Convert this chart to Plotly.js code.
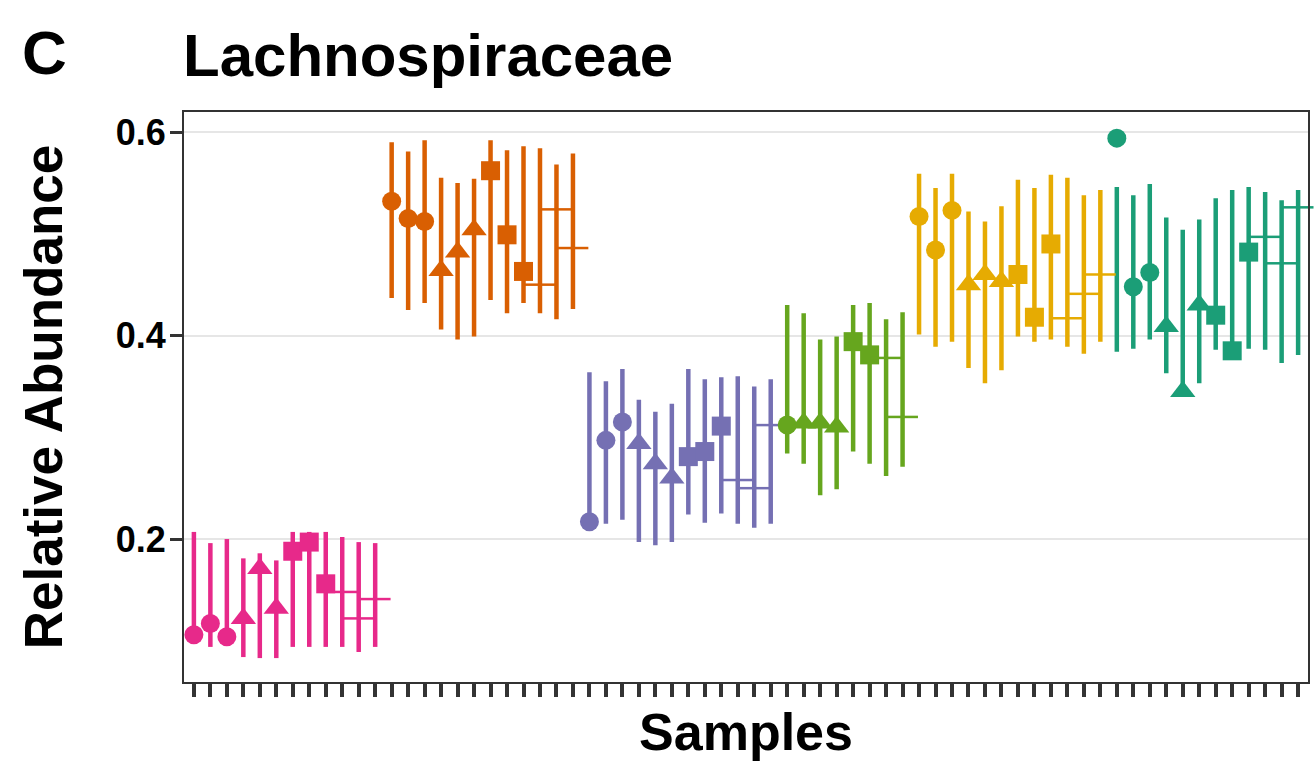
<!DOCTYPE html>
<html>
<head>
<meta charset="utf-8">
<script src="https://cdn.plot.ly/plotly-3.0.1.min.js"></script>
<style>html,body{margin:0;padding:0;background:#fff;}#chart{width:1315px;height:761px;}</style>
</head>
<body>
<div id="chart"></div>
<script>
// ---- data ----
const groupColors = ['#E7298A', '#D95F02', '#7570B3', '#66A61E', '#E6AB02', '#1B9E77'];

const pinkShape = ['circle','circle','circle','triangle','triangle','triangle','square','square','square','plus','plus','plus'];
const pinkMid  = [0.106,0.117,0.104,0.122,0.171,0.132,0.188,0.197,0.156,0.148,0.122,0.141];
const pinkLow  = [0.097,0.094,0.100,0.084,0.083,0.083,0.094,0.094,0.094,0.094,0.089,0.094];
const pinkHigh = [0.207,0.196,0.200,0.181,0.186,0.179,0.207,0.207,0.207,0.202,0.197,0.196];

const orangeShape = ['circle','circle','circle','triangle','triangle','triangle','square','square','square','plus','plus','plus'];
const orangeMid  = [0.532,0.515,0.512,0.464,0.482,0.504,0.562,0.499,0.463,0.450,0.524,0.486];
const orangeLow  = [0.437,0.425,0.432,0.406,0.396,0.399,0.435,0.422,0.432,0.422,0.416,0.426];
const orangeHigh = [0.590,0.581,0.592,0.555,0.550,0.554,0.592,0.582,0.586,0.584,0.568,0.579];

const purpleShape = ['circle','circle','circle','triangle','triangle','triangle','square','square','square','plus','plus','plus'];
const purpleMid  = [0.217,0.297,0.315,0.294,0.274,0.260,0.281,0.286,0.311,0.258,0.250,0.312];
const purpleLow  = [0.213,0.215,0.219,0.197,0.194,0.197,0.224,0.216,0.225,0.215,0.211,0.215];
const purpleHigh = [0.364,0.355,0.367,0.337,0.325,0.333,0.367,0.357,0.359,0.360,0.350,0.357];

const greenShape = ['circle','triangle','triangle','triangle','square','square','plus','plus'];
const greenMid  = [0.312,0.314,0.314,0.310,0.394,0.381,0.378,0.320];
const greenLow  = [0.284,0.274,0.243,0.249,0.286,0.274,0.262,0.271];
const greenHigh = [0.430,0.422,0.396,0.399,0.430,0.432,0.416,0.423];

const yellowShape = ['circle','circle','circle','triangle','triangle','triangle','square','square','square','plus','plus','plus'];
const yellowMid  = [0.517,0.484,0.523,0.450,0.460,0.453,0.460,0.418,0.490,0.417,0.441,0.460];
const yellowLow  = [0.401,0.389,0.394,0.368,0.353,0.366,0.399,0.394,0.396,0.389,0.382,0.394];
const yellowHigh = [0.559,0.545,0.559,0.522,0.512,0.527,0.553,0.545,0.558,0.555,0.538,0.543];

const tealShape = ['circle','circle','circle','triangle','triangle','triangle','square','square','square','plus','plus','plus'];
const tealMid  = [0.594,0.448,0.462,0.409,0.345,0.430,0.420,0.385,0.482,0.497,0.471,0.526];
const tealLow  = [0.384,0.387,0.396,0.363,0.350,0.353,0.386,0.376,0.387,0.386,0.373,0.381];
const tealHigh = [0.546,0.538,0.549,0.516,0.504,0.514,0.535,0.543,0.546,0.541,0.533,0.543];

const yTickVals = [0.2, 0.4, 0.6];
const yTickText = ['0.2', '0.4', '0.6'];

// ---- build traces ----
const groups = [
  {shape: pinkShape, mid: pinkMid, low: pinkLow, high: pinkHigh},
  {shape: orangeShape, mid: orangeMid, low: orangeLow, high: orangeHigh},
  {shape: purpleShape, mid: purpleMid, low: purpleLow, high: purpleHigh},
  {shape: greenShape, mid: greenMid, low: greenLow, high: greenHigh},
  {shape: yellowShape, mid: yellowMid, low: yellowLow, high: yellowHigh},
  {shape: tealShape, mid: tealMid, low: tealLow, high: tealHigh}
];

const symbolMap = {circle: 'circle', triangle: 'triangle-up', square: 'square', plus: 'line-ew'};
const sizeMap = {circle: 19, triangle: 22, square: 19, plus: 22};
const lineWMap = {circle: 0, triangle: 0, square: 0, plus: 2.5};

const allCats = [];
let counter = 0;
const intervalTraces = [];
const markerTraces = [];
groups.forEach((g, gi) => {
  const cats = g.mid.map(() => { counter += 1; const c = 'S' + counter; allCats.push(c); return c; });
  const lx = [], ly = [];
  cats.forEach((c, i) => { lx.push(c, c, null); ly.push(g.low[i], g.high[i], null); });
  intervalTraces.push({
    type: 'scatter', mode: 'lines', x: lx, y: ly,
    line: {color: groupColors[gi], width: 4.5}, hoverinfo: 'skip', showlegend: false
  });
  markerTraces.push({
    type: 'scatter', mode: 'markers', x: cats, y: g.mid,
    marker: {
      color: groupColors[gi], opacity: 1,
      symbol: g.shape.map(s => symbolMap[s]),
      size: g.shape.map(s => sizeMap[s]),
      line: {color: groupColors[gi], width: g.shape.map(s => lineWMap[s])}
    },
    cliponaxis: false, hoverinfo: 'skip', showlegend: false
  });
});

const FONT = 'Liberation Sans, Arial, sans-serif';

const layout = {
  width: 1315, height: 761,
  margin: {l: 184, r: 7, t: 112, b: 79},
  paper_bgcolor: '#ffffff', plot_bgcolor: '#ffffff',
  showlegend: false,
  title: {
    text: '<b>Lachnospiraceae</b>',
    font: {family: FONT, size: 60, color: '#000'},
    xref: 'container', x: 183 / 1315, xanchor: 'left',
    yref: 'container', y: 1 - 55 / 761, yanchor: 'middle'
  },
  xaxis: {
    type: 'category', categoryorder: 'array', categoryarray: allCats,
    range: [-0.6, allCats.length - 0.4],
    showgrid: false, zeroline: false,
    showline: true, linecolor: '#333333', linewidth: 2, mirror: true,
    ticks: 'outside', ticklen: 13, tickwidth: 4, tickcolor: '#333333',
    showticklabels: false,
    title: {text: '<b>Samples</b>', font: {family: FONT, size: 52, color: '#000'}, standoff: 18}
  },
  yaxis: {
    range: [0.0595, 0.6197],
    tickmode: 'array', tickvals: yTickVals, ticktext: yTickText,
    showgrid: true, gridcolor: '#E6E6E6', gridwidth: 2, zeroline: false,
    showline: true, linecolor: '#333333', linewidth: 2, mirror: true,
    ticks: 'outside', ticklen: 12, tickwidth: 3, tickcolor: '#333333',
    ticklabelstandoff: -3,
    tickfont: {family: FONT, size: 36, color: '#000', weight: 'bold'},
    title: {text: '<b>Relative Abundance</b>', font: {family: FONT, size: 53, color: '#000'}, standoff: 36}
  },
  annotations: [{
    text: '<b>C</b>', showarrow: false,
    xref: 'paper', yref: 'paper',
    x: (20 - 184) / 1124, xanchor: 'left',
    y: (682 - 53) / 570, yanchor: 'middle',
    font: {family: FONT, size: 62, color: '#000'}
  }]
};

Plotly.newPlot('chart', intervalTraces.concat(markerTraces), layout, {displayModeBar: false, staticPlot: true});
</script>
</body>
</html>
